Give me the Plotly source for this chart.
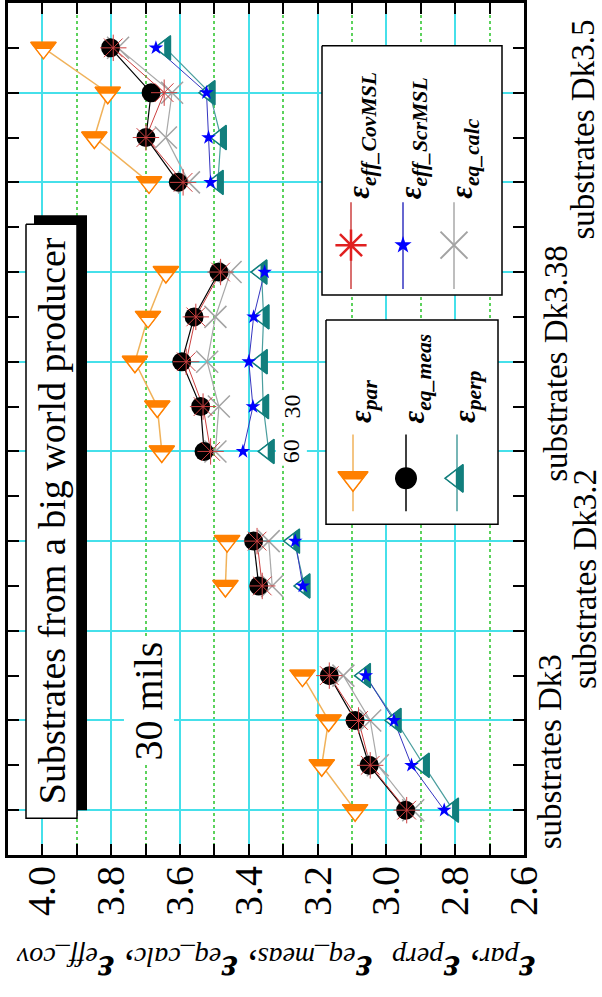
import plotly.graph_objects as go

# ---------------- data ----------------
group_labels = ["substrates Dk3", "substrates Dk3.2", "substrates Dk3.38", "substrates Dk3.5"]
group_rows = [[1, 2, 3, 4], [6, 7], [9, 10, 11, 12, 13], [15, 16, 17, 18]]

eps_par = [[3.091, 3.188, 3.168, 3.244], [3.468, 3.463],
           [3.653, 3.666, 3.731, 3.693, 3.641], [3.690, 3.849, 3.810, 3.997]]
eps_eq_meas = [[2.944, 3.050, 3.091, 3.166], [3.371, 3.386],
               [3.530, 3.540, 3.595, 3.559, 3.487], [3.605, 3.699, 3.684, 3.802]]
eps_perp = [[2.806, 2.891, 2.973, 3.062], [3.238, 3.268],
            [3.342, 3.358, 3.362, 3.357, 3.363], [3.490, 3.481, 3.514, 3.643]]
eps_eff_CovMSL = [[2.941, 3.047, 3.081, 3.166], [3.361, 3.376],
                  [3.511, 3.533, 3.582, 3.554, 3.482], [3.591, 3.699, 3.646, 3.794]]
eps_eff_ScrMSL = [[2.832, 2.927, 2.978, 3.060], [3.243, 3.265],
                  [3.417, 3.388, 3.400, 3.386, 3.354], [3.511, 3.517, 3.523, 3.670]]
eps_eq_calc = [[2.922, 3.025, 3.047, 3.125], [3.332, 3.342],
               [3.497, 3.487, 3.521, 3.497, 3.453], [3.574, 3.641, 3.623, 3.780]]

value_ticks = [4.0, 3.8, 3.6, 3.4, 3.2, 3.0, 2.8, 2.6]
value_tick_text = ["4.0", "3.8", "3.6", "3.4", "3.2", "3.0", "2.8", "2.6"]
thickness_labels = ["60", "30"]
thickness_rows = [9, 10]

legend1_names = ["par", "eq_meas", "perp"]
legend2_names = ["eff_CovMSL", "eff_ScrMSL", "eq_calc"]
axis_title_subs = ["par", "perp", "eq_meas", "eq_calc", "eff_cov"]

# ---------------- layout constants ----------------
W, H = 602, 997
PL, PR, PT, PB = 8, 524, 0, 855
X_RANGE = [4.1, 2.6]
Y_RANGE = [0, 19]
PX_PER_VAL = (PR - PL) / (X_RANGE[0] - X_RANGE[1])
PX_PER_ROW = (PB - PT) / (Y_RANGE[1] - Y_RANGE[0])

SERIF = "Liberation Serif"
CYAN = "#46e0ea"
GREEN = "#5cd25c"
ORANGE, ORANGE_L = "#ff8000", "#f0b25a"
TEAL, TEAL_L = "#127f7d", "#4a9e9e"
RED, RED_L = "#e02020", "#cc4040"
BLUE, BLUE_L = "#0000ff", "#3535c0"
GRAY, GRAY_L = "#a3a3a3", "#a8a8a8"
K = 0.6  # inner (hollow) fraction of the half-filled triangles

fig = go.Figure()


def flatten(groups):
    xs, ys = [], []
    for rows, vals in zip(group_rows, groups):
        xs += list(vals) + [None]
        ys += list(rows) + [None]
    return xs, ys


def points(groups):
    xs, ys = [], []
    for rows, vals in zip(group_rows, groups):
        xs += list(vals)
        ys += list(rows)
    return xs, ys


def line_trace(groups, color, width):
    xs, ys = flatten(groups)
    fig.add_trace(go.Scatter(x=xs, y=ys, mode="lines", connectgaps=False,
                             line=dict(color=color, width=width),
                             hoverinfo="skip", showlegend=False))


def marker_trace(xs, ys, marker, xaxis="x", yaxis="y"):
    fig.add_trace(go.Scatter(x=xs, y=ys, mode="markers", marker=marker,
                             xaxis=xaxis, yaxis=yaxis, cliponaxis=False,
                             hoverinfo="skip", showlegend=False))


def banded(xs, ys, symbol, size, color, dx_in, dy_in, xaxis="x", yaxis="y"):
    marker_trace(xs, ys, dict(symbol=symbol, size=size, color=color,
                              line=dict(color=color, width=1)), xaxis, yaxis)
    marker_trace([x + dx_in for x in xs], [y + dy_in for y in ys],
                 dict(symbol=symbol, size=size * K, color="white",
                      line=dict(width=0)), xaxis, yaxis)
    marker_trace(xs, ys, dict(symbol=symbol + "-open", size=size, color=color,
                              line=dict(color=color, width=1.5)), xaxis, yaxis)


# ---------------- data lines ----------------
line_trace(eps_par, ORANGE_L, 1.5)
line_trace(eps_perp, TEAL_L, 1.2)
line_trace(eps_eq_calc, GRAY_L, 1.2)
line_trace(eps_eq_meas, "black", 1.2)
line_trace(eps_eff_CovMSL, RED_L, 1.0)
line_trace(eps_eff_ScrMSL, BLUE_L, 1.0)

# ---------------- data markers ----------------
S_PAR, S_PERP = 22, 21
px, py = points(eps_par)
banded(px, py, "triangle-down", S_PAR, ORANGE, 0,
       -(S_PAR / 2) * (1 - K) / PX_PER_ROW)
px, py = points(eps_perp)
banded(px, py, "triangle-left", S_PERP, TEAL,
       (S_PERP / 2) * (1 - K) / PX_PER_VAL, 0)
px, py = points(eps_eq_calc)
marker_trace(px, py, dict(symbol="x-thin-open", size=22, color=GRAY,
                          line=dict(color=GRAY, width=1.5)))
px, py = points(eps_eq_meas)
marker_trace(px, py, dict(symbol="circle", size=19, color="black",
                          line=dict(width=0)))
px, py = points(eps_eff_CovMSL)
marker_trace(px, py, dict(symbol="asterisk-open", size=22, color=RED_L,
                          line=dict(color=RED_L, width=1)))
px, py = points(eps_eff_ScrMSL)
marker_trace(px, py, dict(symbol="star", size=11, color=BLUE,
                          line=dict(width=0)))

# ---------------- decorations in a pixel overlay ----------------
def box(x0, x1, y0, y1, fill, lw):
    fig.add_trace(go.Scatter(x=[x0, x1, x1, x0, x0], y=[y0, y0, y1, y1, y0],
                             mode="lines", fill="toself", fillcolor=fill,
                             line=dict(color="black", width=lw),
                             xaxis="x2", yaxis="y2",
                             hoverinfo="skip", showlegend=False))

# title box with shadow
box(34, 87, 213, 810, "black", 0)
box(26, 77, 222, 818, "white", 1.5)
# legend boxes
box(326, 498, 318, 523, "white", 1.5)
box(322, 502, 43, 293, "white", 1.5)

L1_cols, L1_line, L1_mark = [353, 406, 457], (433, 510), 477
L2_cols, L2_line, L2_mark = [351, 403, 454], (200, 287), 243


def vseg(x, y0, y1, color, width):
    fig.add_trace(go.Scatter(x=[x, x], y=[y0, y1], mode="lines",
                             line=dict(color=color, width=width),
                             xaxis="x2", yaxis="y2",
                             hoverinfo="skip", showlegend=False))


for col, c in zip(L1_cols, [ORANGE_L, "black", TEAL_L]):
    vseg(col, *L1_line, c, 1.5)
for col, c in zip(L2_cols, [RED_L, BLUE_L, GRAY_L]):
    vseg(col, *L2_line, c, 1.5)

banded([L1_cols[0]], [L1_mark], "triangle-down", 26, ORANGE, 0,
       13 * (1 - K), "x2", "y2")
marker_trace([L1_cols[1]], [L1_mark], dict(symbol="circle", size=22, color="black",
                                           line=dict(width=0)), "x2", "y2")
banded([L1_cols[2]], [L1_mark], "triangle-left", 24, TEAL,
       -12 * (1 - K), 0, "x2", "y2")
marker_trace([L2_cols[0]], [L2_mark], dict(symbol="asterisk-open", size=26, color=RED,
                                           line=dict(color=RED, width=2.5)), "x2", "y2")
marker_trace([L2_cols[1]], [L2_mark], dict(symbol="star", size=13, color=BLUE,
                                           line=dict(width=0)), "x2", "y2")
marker_trace([L2_cols[2]], [L2_mark], dict(symbol="x-thin-open", size=27, color=GRAY,
                                           line=dict(color=GRAY, width=2)), "x2", "y2")

# ---------------- annotations (pixel positions -> paper coords) ----------------
ann = []


def text(x, y, t, size, angle=-90, xanchor="center", yanchor="middle",
         bg=None, data=False):
    if data:
        xr, yr, xx, yy = "x", "y", x, y
    else:
        xr, yr = "paper", "paper"
        xx = (x - PL) / (PR - PL)
        yy = (PB - y) / (PB - PT)
    d = dict(x=xx, y=yy, xref=xr, yref=yr, text=t, showarrow=False,
             textangle=angle, xanchor=xanchor, yanchor=yanchor,
             font=dict(family=SERIF, size=size, color="black"), borderpad=2)
    if bg:
        d["bgcolor"] = bg
    ann.append(d)


text(52, 520, "Substrates from a big world producer", 38)
text(149, 701, "30 mils", 40, bg="white")
for lab, row in zip(thickness_labels, thickness_rows):
    text(3.275, row, lab, 24, bg="white", data=True)

group_label_pos = [(550, 752), (585, 578), (556, 362), (583, 127)]
for lab, (gx, gy) in zip(group_labels, group_label_pos):
    text(gx, gy, lab, 33)

EPS = "<b><i>ε</i></b>"
for col, name in zip(L1_cols, legend1_names):
    text(col + 10, 425, EPS + "<sub><b><i>" + name + "</i></b></sub>", 31,
         yanchor="bottom")
for col, name in zip(L2_cols, legend2_names):
    text(col + 10, 200, EPS + "<sub><b><i>" + name + "</i></b></sub>", 31,
         yanchor="bottom")

parts = [EPS + "<sub><i>" + s + "</i></sub>" for s in axis_title_subs]
title_txt = (parts[0] + ",\u00a0" + parts[1] + "\u00a0\u00a0" + parts[2]
             + ",\u00a0" + parts[3] + ",\u00a0" + parts[4])
text(276, 968, title_txt, 40, angle=180)

# ---------------- layout ----------------
fig.update_layout(
    width=W, height=H,
    margin=dict(l=PL, r=W - PR, t=PT, b=H - PB, pad=0),
    paper_bgcolor="white", plot_bgcolor="white", showlegend=False,
    font=dict(family=SERIF, color="black"),
    annotations=ann,
    xaxis=dict(range=X_RANGE, tickmode="array", tickvals=value_ticks,
               ticktext=value_tick_text, tickangle=-90,
               tickfont=dict(family=SERIF, size=40, color="black"),
               ticks="inside", ticklen=11, tickwidth=1.5, tickcolor="black",
               showline=True, linewidth=3, linecolor="black", mirror="ticks",
               showgrid=True, gridcolor=CYAN, gridwidth=2, zeroline=False,
               ticklabelstandoff=-8,
               minor=dict(tick0=4.0, dtick=0.1, ticks="inside", ticklen=11,
                          tickwidth=1.5, tickcolor="black", showgrid=True,
                          gridcolor=GREEN, griddash="dot", gridwidth=1.5)),
    yaxis=dict(range=Y_RANGE, tickmode="linear", tick0=1, dtick=2,
               showticklabels=False, ticks="inside", ticklen=11, tickwidth=1.5,
               tickcolor="black", showline=True, linewidth=3, linecolor="black",
               mirror="ticks", showgrid=True, gridcolor=CYAN, gridwidth=2,
               zeroline=False,
               minor=dict(tick0=0, dtick=1, ticks="inside", ticklen=11,
                          tickwidth=1.5, tickcolor="black", showgrid=False)),
    xaxis2=dict(overlaying="x", anchor="y2", range=[PL, PR], visible=False),
    yaxis2=dict(overlaying="y", anchor="x2", range=[PB, PT], visible=False),
)

fig.write_html("out.html")
